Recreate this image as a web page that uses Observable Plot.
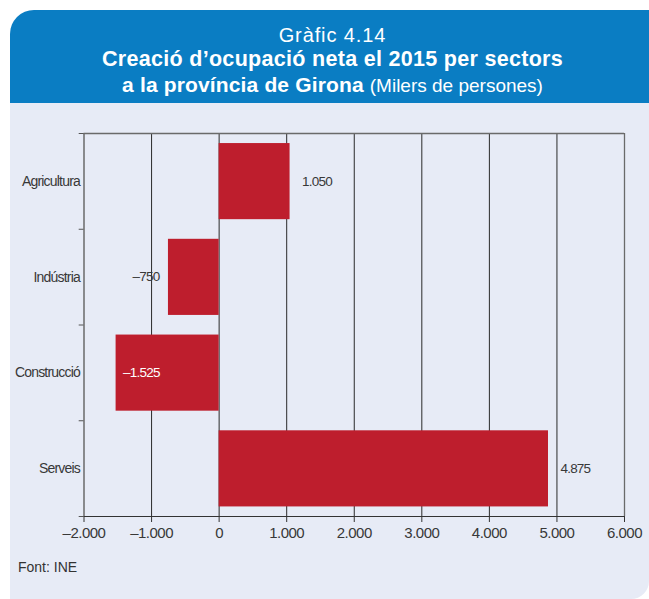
<!DOCTYPE html>
<html><head><meta charset="utf-8">
<script src="https://cdn.jsdelivr.net/npm/d3@7"></script>
<script src="https://cdn.jsdelivr.net/npm/@observablehq/plot@0.6"></script>
<style>
body{margin:0;background:#fff;width:649px;height:599px;overflow:hidden;position:relative;font-family:"Liberation Sans",Arial,sans-serif}
#head{position:absolute;left:10px;top:10px;width:639px;height:93px;background:#0a7dc3;border-top-left-radius:24px;color:#fff}
#head div{position:absolute;left:3px;width:639px;text-align:center;white-space:nowrap;line-height:1}
#t1{top:15px;font-size:20px;letter-spacing:0.9px}
#t2{top:39px;font-size:21.5px;font-weight:bold;letter-spacing:0.3px}
#t3{top:64px;font-size:21px;font-weight:bold;letter-spacing:0.15px}
#t3 span{font-weight:normal;font-size:19px;letter-spacing:0}
#panel{position:absolute;left:10px;top:103px;width:639px;height:496px;background:#e7ebf6;border-bottom-right-radius:18px}
#chart{position:absolute;left:0;top:103px}
#foot{position:absolute;left:18px;top:560px;font-size:14px;line-height:14px;color:#333}
#chart g[aria-label="y-axis tick label"] text{letter-spacing:-0.8px}
#chart g[aria-label="x-axis tick label"] text{letter-spacing:-0.5px}
#chart g[aria-label="text"] text{letter-spacing:-0.8px}
</style></head>
<body>
<div id="head">
  <div id="t1">Gràfic 4.14</div>
  <div id="t2">Creació d’ocupació neta el 2015 per sectors</div>
  <div id="t3">a la província de Girona <span>(Milers de persones)</span></div>
</div>
<div id="panel"></div>
<div id="chart"></div>
<div id="foot">Font: INE</div>
<script>
const sectors = ["Agricultura", "Indústria", "Construcció", "Serveis"];
const values = [1050, -750, -1525, 4875];
const xTicks = [-2000, -1000, 0, 1000, 2000, 3000, 4000, 5000, 6000];
const source = "Font: INE";

const data = sectors.map((s, i) => ({sector: s, value: values[i]}));
const loc = d3.formatLocale({decimal: ",", thousands: ".", grouping: [3], currency: ["", ""], minus: "–"});
const fmt = loc.format(",d");

const W = 649, H = 470, mt = 30, mb = 57, ml = 83.5, mr = 25;
const step = (H - mt - mb) / sectors.length;
const xMin = xTicks[0], xMax = xTicks[xTicks.length - 1];
const pxPerUnit = (W - ml - mr) / (xMax - xMin);
const tickLen = 4.8 / pxPerUnit;
const font = '"Liberation Sans",Arial,sans-serif';
const ink = "#383838";
const lastSector = sectors[sectors.length - 1];

const chart = Plot.plot({
  width: W, height: H,
  marginTop: mt, marginBottom: mb, marginLeft: ml, marginRight: mr,
  style: {background: "transparent", fontFamily: font, color: ink},
  x: {domain: [xMin, xMax], round: false},
  y: {type: "band", domain: sectors, padding: 0, round: false},
  marks: [
    Plot.ruleX(xTicks.filter(t => t > xMin && t < xMax), {stroke: "#2a2a2a", strokeWidth: 1}),
    Plot.barX(data, {x: "value", y: "sector", fill: "#be1e2d", insetTop: step * 0.105, insetBottom: step * 0.1}),
    Plot.ruleX([xMax], {stroke: "#6a6a6a", strokeWidth: 1.3}),
    Plot.ruleX([xMin], {stroke: "#6a6a6a", strokeWidth: 1.5}),
    Plot.ruleY([sectors[0]], {dy: -step / 2, stroke: "#6a6a6a", strokeWidth: 1.3}),
    Plot.ruleY([lastSector], {dy: step / 2, stroke: "#333", strokeWidth: 1.2}),
    Plot.ruleY(sectors, {dy: -step / 2, x1: xMin - tickLen, x2: xMin, stroke: "#555"}),
    Plot.ruleY([lastSector], {dy: step / 2, x1: xMin - tickLen, x2: xMin, stroke: "#555"}),
    Plot.axisY({tickSize: 0, tickPadding: 4, label: null, fontSize: 14, fill: ink}),
    Plot.axisX({ticks: xTicks, tickFormat: fmt, tickSize: 6, tickPadding: 5, label: null, fontSize: 15, fill: ink, stroke: "#333"}),
    Plot.text(data.filter(d => d.value >= 0), {x: "value", y: "sector", text: d => fmt(d.value), textAnchor: "start", dx: 12, fontSize: 13.5, fill: ink}),
    Plot.text(data.filter(d => d.value < 0 && d.value > -1000), {x: "value", y: "sector", text: d => fmt(d.value), textAnchor: "end", dx: -9, fontSize: 13.5, fill: ink}),
    Plot.text(data.filter(d => d.value <= -1000), {x: "value", y: "sector", text: d => fmt(d.value), textAnchor: "start", dx: 7, fontSize: 13.5, fill: "#fff"})
  ]
});
document.getElementById("chart").appendChild(chart);
document.getElementById("foot").textContent = source;
</script>
</body></html>
